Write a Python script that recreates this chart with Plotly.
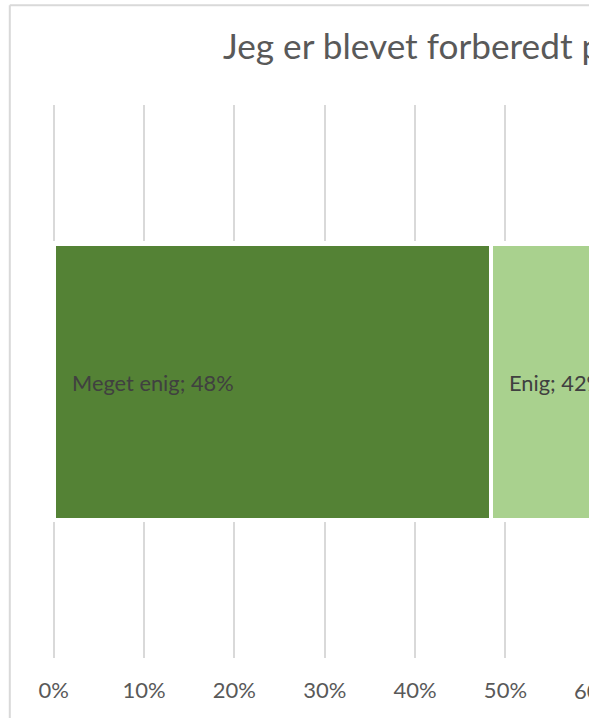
import plotly.graph_objects as go

# ---- data ----
categories = ["Meget enig", "Enig"]
values = [0.484, 0.42]
colors = ["#548235", "#A9D18E"]
tick_vals = [0, 0.1, 0.2, 0.3, 0.4, 0.5, 0.6]
tick_text = ["0%", "10%", "20%", "30%", "40%", "50%", "60%"]
title_text = "Jeg er blevet forberedt på"
row = ["Svar"]

# ---- layout constants ----
W, H = 589, 718
ML, MR, MT, MB = 17, 0, 105, 60
PW = W - ML - MR
PH = H - MT - MB
SCALE = 903.5
X0 = -(53.7 - ML) / SCALE
X1 = X0 + PW / SCALE

FONT = "Lato, 'Open Sans', sans-serif"
TICKFONT = dict(family=FONT, size=22, color="#595959")

fig = go.Figure()
base = 0.0
for name, v, c in zip(categories, values, colors):
    fig.add_trace(go.Bar(
        y=row, x=[v], orientation="h", name=name,
        marker=dict(color=c, line=dict(color="white", width=4.5)),
        hoverinfo="skip",
    ))
    fig.add_annotation(
        x=base, y=row[0], xref="x", yref="y",
        text=f"{name}; {round(v * 100)}%",
        xanchor="left", yanchor="middle", xshift=16, yshift=-1,
        showarrow=False,
        font=dict(family=FONT, size=21.8, color="#404040"),
    )
    base += v

def px_to_paper_x(px):
    return (px - ML) / PW

def py_to_paper_y(py):
    return (H - MB - py) / PH

def data_to_paper_x(v):
    return (v - X0) / (X1 - X0)

# tick labels of the chart that lie past the visible (cropped) edge
for tv, tt in zip(tick_vals, tick_text):
    if tv > X1:
        fig.add_annotation(
            x=data_to_paper_x(tv), y=py_to_paper_y(690),
            xref="paper", yref="paper", text=tt, showarrow=False,
            xanchor="center", yanchor="middle", font=TICKFONT,
        )

# chart border (top and left visible)
border = dict(color="#d9d9d9", width=2)
fig.add_shape(type="line", xref="paper", yref="paper",
              x0=px_to_paper_x(9.8), x1=px_to_paper_x(W + 5),
              y0=py_to_paper_y(5.3), y1=py_to_paper_y(5.3), line=border)
fig.add_shape(type="line", xref="paper", yref="paper",
              x0=px_to_paper_x(9.8), x1=px_to_paper_x(9.8),
              y0=py_to_paper_y(5.3), y1=py_to_paper_y(H + 5), line=border)

fig.update_layout(
    width=W, height=H, autosize=False,
    margin=dict(l=ML, r=MR, t=MT, b=MB, pad=0, autoexpand=False),
    paper_bgcolor="white", plot_bgcolor="white",
    barmode="stack", bargap=0.5,
    showlegend=False,
    title=dict(text=title_text, xref="container", yref="container",
               x=223 / W, xanchor="left", y=1 - 47 / H, yanchor="middle",
               automargin=False,
               font=dict(family=FONT, size=35.2, color="#595959")),
    xaxis=dict(range=[X0, X1], tickvals=tick_vals, ticktext=tick_text,
               showgrid=True, gridcolor="#d9d9d9", gridwidth=2,
               zeroline=False, showline=False, ticks="", automargin=False,
               tickfont=TICKFONT,
               ticklabelstandoff=17, ticklabeloverflow="allow"),
    yaxis=dict(type="category", range=[-0.5, 0.5], showticklabels=False,
               showgrid=False, zeroline=False, showline=False, ticks="",
               automargin=False),
)

fig.write_html(
    "out.html",
    config={"responsive": False, "displayModeBar": False},
    post_script="document.body.style.margin='0';document.body.style.overflow='hidden';",
)
